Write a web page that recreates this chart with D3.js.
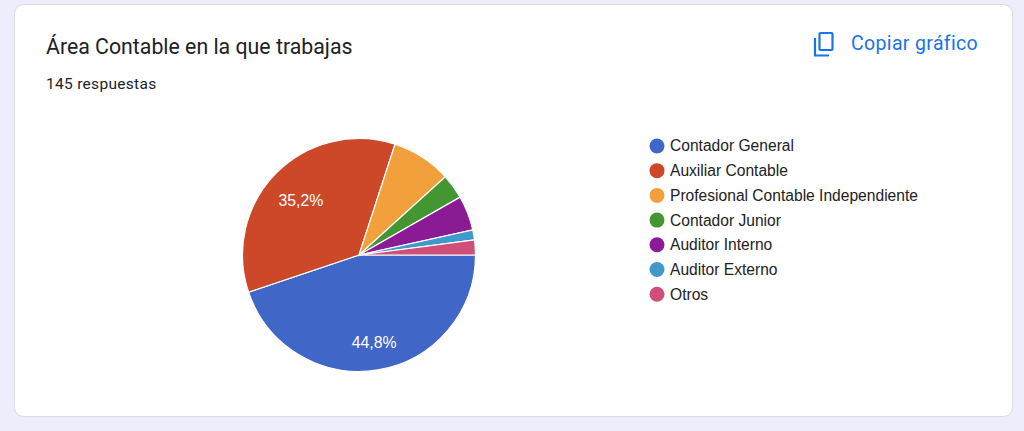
<!DOCTYPE html>
<html><head><meta charset="utf-8">
<script src="https://cdn.jsdelivr.net/npm/d3@7/dist/d3.min.js"></script>
<style>
html,body{margin:0;padding:0;background:#eeedfb;}
svg{display:block;}
</style></head>
<body><svg id="c" width="1024" height="431"></svg>
<script>
const categories = ["Contador General","Auxiliar Contable","Profesional Contable Independiente","Contador Junior","Auditor Interno","Auditor Externo","Otros"];
const values = [65,51,12,5,7,2,3];
const colors = ["#4066c8","#cc4828","#f2a03b","#449632","#8b1b95","#3f9acb","#d04f79"];
const title = "Área Contable en la que trabajas";
const subtitle = "145 respuestas";

const svg = d3.select("#c");
svg.append("rect").attr("x",14.5).attr("y",4.5).attr("width",998).attr("height",412)
  .attr("rx",9).attr("fill","#fff").attr("stroke","#dadce0");
svg.append("text").attr("x",46).attr("y",54).attr("font-family","Roboto, sans-serif")
  .attr("font-size",21.3).attr("fill","#202124").text(title);
svg.append("text").attr("x",46).attr("y",89).attr("font-family","Roboto, sans-serif")
  .attr("font-size",15.5).attr("letter-spacing",0.3).attr("fill","#202124").text(subtitle);

// copy icon
const ic = svg.append("g").attr("fill","none").attr("stroke","#1a73e8").attr("stroke-width",2.2);
ic.append("rect").attr("x",819.5).attr("y",33).attr("width",13).attr("height",17).attr("rx",1);
ic.append("path").attr("d","M815 38 V55.5 H829");
svg.append("text").attr("x",851).attr("y",50).attr("font-family","Roboto, sans-serif")
  .attr("font-size",19.5).attr("letter-spacing",0.35).attr("fill","#1a73e8").text("Copiar gráfico");

const total = d3.sum(values);
const cx = 359, cy = 255, R = 116.5;
const pie = d3.pie().sort(null).startAngle(Math.PI/2).endAngle(Math.PI/2 + 2*Math.PI);
const arcs = pie(values);
const arc = d3.arc().innerRadius(0).outerRadius(R);
const labelArc = d3.arc().innerRadius(R*0.72).outerRadius(R*0.72);
const g = svg.append("g").attr("transform",`translate(${cx},${cy})`);
g.selectAll("path").data(arcs).join("path").attr("d",arc)
  .attr("fill",(d,i)=>colors[i]).attr("stroke","#fff").attr("stroke-width",1.2);
g.selectAll("text").data(arcs.filter(d=>d.value/total>0.1)).join("text")
  .attr("transform",d=>{const c=labelArc.centroid(d);return `translate(${c[0]+1.5},${c[1]+4.2})`;})
  .attr("text-anchor","middle").attr("dy","0.35em")
  .attr("font-family","Liberation Sans, Arial, sans-serif").attr("font-size",15.8).attr("fill","#fff")
  .text(d=>(d.value/total*100).toFixed(1).replace(".",",")+"%");

const y = d3.scaleBand().domain(categories).range([133.6,306.6]);
const lg = svg.append("g");
const items = lg.selectAll("g").data(categories).join("g")
  .attr("transform",d=>`translate(0,${y(d)+y.bandwidth()/2})`);
items.append("circle").attr("cx",657).attr("cy",0).attr("r",7.5).attr("fill",(d,i)=>colors[i]);
items.append("text").attr("x",670).attr("y",0).attr("dy","0.35em")
  .attr("font-family","Liberation Sans, Arial, sans-serif").attr("font-size",15.6).attr("fill","#222")
  .text(d=>d);
</script></body></html>
